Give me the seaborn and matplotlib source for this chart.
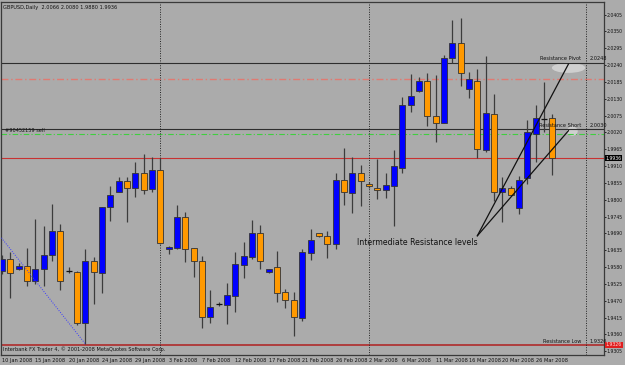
import matplotlib
matplotlib.use("Agg")
import numpy as np
import pandas as pd
import seaborn as sns
import matplotlib.pyplot as plt
from matplotlib.patches import Ellipse
from matplotlib.transforms import blended_transform_factory

# GBPUSD daily bars
dates = [
    "2008-01-10", "2008-01-11", "2008-01-13", "2008-01-14", "2008-01-15", "2008-01-16", "2008-01-17",
    "2008-01-18", "2008-01-20", "2008-01-21", "2008-01-22", "2008-01-23", "2008-01-24", "2008-01-25",
    "2008-01-27", "2008-01-28", "2008-01-29", "2008-01-30", "2008-01-31", "2008-02-01", "2008-02-03",
    "2008-02-04", "2008-02-05", "2008-02-06", "2008-02-07", "2008-02-08", "2008-02-10", "2008-02-11",
    "2008-02-12", "2008-02-13", "2008-02-14", "2008-02-15", "2008-02-17", "2008-02-18", "2008-02-19",
    "2008-02-20", "2008-02-21", "2008-02-22", "2008-02-24", "2008-02-25", "2008-02-26", "2008-02-27",
    "2008-02-28", "2008-02-29", "2008-03-02", "2008-03-03", "2008-03-04", "2008-03-05", "2008-03-06",
    "2008-03-07", "2008-03-09", "2008-03-10", "2008-03-11", "2008-03-12", "2008-03-13", "2008-03-14",
    "2008-03-16", "2008-03-17", "2008-03-18", "2008-03-19", "2008-03-20", "2008-03-23", "2008-03-24",
    "2008-03-25", "2008-03-26", "2008-03-27", "2008-03-28",
]
opens = [
    1.9567, 1.9606, 1.9573, 1.9583, 1.9534, 1.9573, 1.9619, 1.9697, 1.9567, 1.9564,
    1.9397, 1.9599, 1.9560, 1.9775, 1.9827, 1.9860, 1.9840, 1.9889, 1.9834, 1.9896,
    1.9638, 1.9642, 1.9743, 1.9642, 1.9599, 1.9417, 1.9459, 1.9456, 1.9485, 1.9586,
    1.9612, 1.9691, 1.9564, 1.9580, 1.9498, 1.9472, 1.9414, 1.9625, 1.9691, 1.9681,
    1.9655, 1.9866, 1.9821, 1.9889, 1.9850, 1.9837, 1.9831, 1.9844, 1.9905, 2.0108,
    2.0156, 2.0189, 2.0075, 2.0052, 2.0264, 2.0313, 2.0163, 2.0189, 1.9961, 2.0081,
    1.9827, 1.9840, 1.9772, 1.9870, 2.0016, 2.0065, 2.0066,
]
highs = [
    1.9619, 1.9629, 1.9593, 1.9642, 1.9736, 1.9713, 1.9785, 1.9720, 1.9580, 1.9567,
    1.9638, 1.9612, 1.9775, 1.9844, 1.9873, 1.9873, 1.9925, 1.9951, 1.9941, 1.9938,
    1.9649, 1.9782, 1.9759, 1.9642, 1.9616, 1.9505, 1.9466, 1.9528, 1.9629, 1.9662,
    1.9733, 1.9717, 1.9573, 1.9632, 1.9508, 1.9498, 1.9638, 1.9704, 1.9691, 1.9697,
    1.9886, 1.9968, 1.9941, 1.9915, 1.9857, 1.9932, 1.9886, 1.9961, 2.0137, 2.0212,
    2.0202, 2.0215, 2.0209, 2.0274, 2.0388, 2.0394, 2.0218, 2.0228, 2.0270, 2.0147,
    1.9876, 1.9844, 1.9879, 2.0062, 2.0108, 2.0186, 2.0080,
]
lows = [
    1.9557, 1.9479, 1.9570, 1.9518, 1.9524, 1.9518, 1.9599, 1.9505, 1.9560, 1.9391,
    1.9329, 1.9459, 1.9495, 1.9730, 1.9824, 1.9726, 1.9808, 1.9818, 1.9824, 1.9655,
    1.9622, 1.9638, 1.9596, 1.9547, 1.9381, 1.9397, 1.9453, 1.9394, 1.9433, 1.9544,
    1.9606, 1.9573, 1.9562, 1.9466, 1.9446, 1.9355, 1.9404, 1.9603, 1.9678, 1.9609,
    1.9638, 1.9782, 1.9756, 1.9779, 1.9840, 1.9801, 1.9805, 1.9713, 1.9889, 2.0088,
    2.0153, 2.0042, 1.9990, 2.0050, 2.0248, 2.0170, 2.0134, 1.9938, 1.9955, 1.9795,
    1.9726, 1.9811, 1.9753, 1.9850, 1.9922, 2.0020, 1.9880,
]
closes = [
    1.9606, 1.9560, 1.9583, 1.9534, 1.9573, 1.9619, 1.9697, 1.9534, 1.9567, 1.9397,
    1.9599, 1.9564, 1.9775, 1.9814, 1.9860, 1.9840, 1.9886, 1.9831, 1.9896, 1.9658,
    1.9645, 1.9743, 1.9638, 1.9599, 1.9417, 1.9450, 1.9459, 1.9489, 1.9590, 1.9616,
    1.9691, 1.9599, 1.9573, 1.9495, 1.9472, 1.9417, 1.9629, 1.9668, 1.9681, 1.9655,
    1.9866, 1.9824, 1.9889, 1.9860, 1.9844, 1.9831, 1.9847, 1.9909, 2.0111, 2.0140,
    2.0189, 2.0075, 2.0052, 2.0264, 2.0313, 2.0215, 2.0196, 1.9966, 2.0085, 1.9827,
    1.9840, 1.9814, 1.9866, 2.0020, 2.0068, 2.0065, 1.9936,
]

y_ticks = [1.9305, 1.9360, 1.9415, 1.9470, 1.9525, 1.9580, 1.9635, 1.9690, 1.9745, 1.9800, 1.9855,
           1.9910, 1.9965, 2.0020, 2.0075, 2.0130, 2.0185, 2.0240, 2.0295, 2.0350, 2.0405]
separator_bars = [19, 44, 70]
resistance_pivot = 2.0248
resistance_short = 2.0030
resistance_low = 1.9326
pivot_dashdot = 2.0196
sell_order = 2.0015
bid = 1.9936

df = pd.DataFrame({"date": pd.to_datetime(dates), "open": opens, "high": highs,
                   "low": lows, "close": closes})
df["x"] = np.arange(len(df))
bull = df[df["close"] > df["open"]]
bear = df[df["close"] < df["open"]]
doji = df[df["close"] == df["open"]]

sns.set_style("white")
plt.rcParams["font.family"] = ["DejaVu Sans"]

fig = plt.figure(figsize=(6.25, 3.65), dpi=100)
fig.patch.set_facecolor("#ababab")
ax = fig.add_axes([1 / 625, 10 / 365, 603 / 625, 353 / 365])
ax.set_facecolor("#ababab")

# wicks and bodies
ax.vlines(df["x"], df["low"], df["high"], color="#3c3c3c", lw=0.9, zorder=3)
ax.bar(bull["x"], bull["close"] - bull["open"], bottom=bull["open"], width=0.72,
       color="#0000ff", edgecolor="#333333", lw=0.6, zorder=4)
ax.bar(bear["x"], bear["open"] - bear["close"], bottom=bear["close"], width=0.72,
       color="#ff9900", edgecolor="#333333", lw=0.6, zorder=4)
ax.hlines(doji["open"], doji["x"] - 0.36, doji["x"] + 0.36, color="#111111", lw=0.9, zorder=4)

# horizontal levels
ax.axhline(resistance_pivot, color="#2e2e2e", lw=0.8, zorder=2)
ax.axhline(pivot_dashdot, color="#e07a72", lw=1.0, ls=(0, (5, 2, 1, 2)), zorder=2)
ax.axhline(resistance_short, color="#2e2e2e", lw=0.8, zorder=2)
ax.axhline(sell_order, color="#3fcf3f", lw=0.8, ls=(0, (5, 2, 1, 2)), zorder=2)
ax.axhline(bid, color="#c83232", lw=0.8, zorder=2)
ax.axhline(resistance_low, color="#b02020", lw=1.1, zorder=2)
for b in separator_bars:
    ax.axvline(b, color="#222222", lw=0.7, ls=(0, (1, 1.5)), zorder=2)

# trend lines
blue_line = pd.DataFrame({"x": [-0.25, 10.0], "y": [1.9682, 1.9329]})
sns.lineplot(data=blue_line, x="x", y="y", ax=ax, color="#3a3aff", lw=0.7,
             linestyle=(0, (1, 1.5)), zorder=5)
for y_end in [2.0244, 2.0026]:
    seg = pd.DataFrame({"x": [57.0, 67.95], "y": [1.9682, y_end]})
    sns.lineplot(data=seg, x="x", y="y", ax=ax, color="#111111", lw=0.9, zorder=5)

ax.add_patch(Ellipse((67.95, 2.0231), 4.0, 0.0033, color="#e8e8e8", alpha=0.6, lw=0, zorder=1))
ax.add_patch(Ellipse((68.4, 2.0024), 1.3, 0.0030, color="#e8e8e8", alpha=0.6, lw=0, zorder=1))

ax.text(42.6, 1.9662, "Intermediate Resistance levels", fontsize=5.6, color="#111111",
        ha="left", va="center", zorder=6)

small = 3.6
for lvl, name in [(resistance_pivot, "Resistance Pivot"), (resistance_short, "Resistance Short"),
                  (resistance_low, "Resistance Low")]:
    ax.text(69.5, lvl + 0.0004, name, fontsize=small, color="#111111", ha="right", va="bottom", zorder=6)
    ax.text(70.5, lvl + 0.0004, f"{lvl:.4f}", fontsize=small, color="#111111", ha="left", va="bottom", zorder=6)
ax.text(0.3, sell_order + 0.0003, "#90452159 sell", fontsize=small, color="#111111",
        ha="left", va="bottom", zorder=6)

trans = blended_transform_factory(ax.transAxes, ax.transData)
ax.text(1.003, bid, f"{bid:.4f}", transform=trans, fontsize=3.3, color="white", ha="left", va="center",
        bbox=dict(facecolor="black", edgecolor="none", pad=0.4), zorder=7, clip_on=False)
ax.text(1.003, resistance_low, f"{resistance_low:.4f}", transform=trans, fontsize=3.3, color="#ffdddd",
        ha="left", va="center", bbox=dict(facecolor="#e02020", edgecolor="none", pad=0.4), zorder=7,
        clip_on=False)

ax.text(0.004, 0.992, "GBPUSD,Daily  2.0066 2.0080 1.9880 1.9936", transform=ax.transAxes,
        fontsize=small, color="#111111", ha="left", va="top")
ax.text(0.004, 0.008, "Interbank FX Trader 4, \u00a9 2001-2008 MetaQuotes Software Corp.",
        transform=ax.transAxes, fontsize=small, color="#111111", ha="left", va="bottom")

# axes
ax.set_xlim(-0.12, 72.2)
ax.set_ylim(1.9293, 2.0446)
tick_idx = list(range(0, len(df), 4))
ax.set_xticks(tick_idx)
ax.set_xticklabels([df["date"][i].strftime("%-d %b %Y") for i in tick_idx], ha="left")
ax.set_yticks(y_ticks)
ax.set_yticklabels([f"{v:.4f}" for v in y_ticks])
ax.yaxis.tick_right()
ax.tick_params(axis="x", length=2, width=0.6, pad=0.5, labelsize=3.6, colors="#111111", direction="out")
ax.tick_params(axis="y", length=1.5, width=0.6, pad=0.6, labelsize=3.3, colors="#111111", direction="out")
ax.set_xlabel("")
ax.set_ylabel("")
for s in ax.spines.values():
    s.set_color("#3a3a3a")
    s.set_linewidth(0.9)

fig.savefig("out.png", dpi=100, facecolor=fig.get_facecolor())
